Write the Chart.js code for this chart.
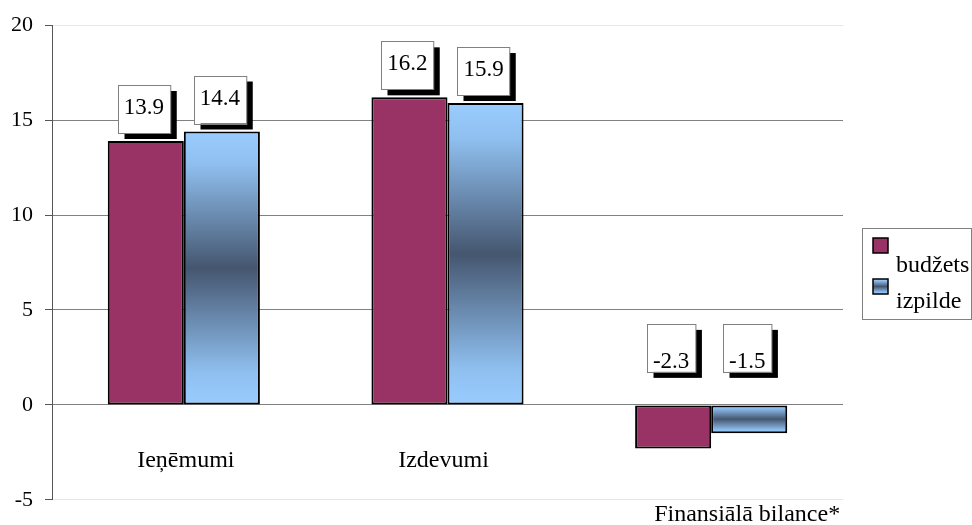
<!DOCTYPE html>
<html>
<head>
<meta charset="utf-8">
<script src="https://cdn.jsdelivr.net/npm/chart.js@4.4.1/dist/chart.umd.min.js"></script>
<style>
  html, body { margin: 0; padding: 0; background: #ffffff; }
  #wrap { width: 972px; height: 525px; position: relative; }
</style>
</head>
<body>
<div id="wrap"><canvas id="c" width="972" height="525"></canvas></div>
<script>
// ---- data ----
const categories = ["Ieņēmumi", "Izdevumi", "Finansiālā bilance*"];
const seriesNames = ["budžets", "izpilde"];
const budzets = [13.9, 16.2, -2.3];
const izpilde = [14.4, 15.9, -1.5];
const yTicks = [-5, 0, 5, 10, 15, 20];

// ---- style ----
const SERIF = "'Liberation Serif', 'Times New Roman', serif";
const budzetsColor = '#993366';
const blueLight = '#99ccff';
const blueDark = '#45566f';
// category label placement (offset px from category centre, value on y axis)
const catLabelDx = [2, -4, 36];
const catLabelY = [-2.95, -2.95, -5.8];

function blueGradient(ctx, y0, y1) {
  const g = ctx.createLinearGradient(0, Math.min(y0, y1), 0, Math.max(y0, y1));
  g.addColorStop(0, blueLight);
  g.addColorStop(0.12, '#8fbfef');
  g.addColorStop(0.5, blueDark);
  g.addColorStop(0.88, '#8fbfef');
  g.addColorStop(1, blueLight);
  return g;
}

const valueBoxes = {
  id: 'valueBoxes',
  afterDatasetsDraw(chart) {
    const ctx = chart.ctx;
    const ys = chart.scales.y;
    const zero = ys.getPixelForValue(0);
    ctx.save();
    ctx.font = '23px ' + SERIF;
    chart.data.datasets.forEach((ds, di) => {
      const meta = chart.getDatasetMeta(di);
      meta.data.forEach((el, i) => {
        const v = ds.data[i];
        const txt = v.toFixed(1);
        const w = Math.max(48, ctx.measureText(txt).width + 12);
        const h = 48;
        const cx = el.x - 2;
        const bottom = v >= 0 ? el.y - 8 : zero - 33;
        const top = bottom - h;
        const left = Math.round(cx - w / 2) + 0.5;
        ctx.fillStyle = '#000';
        ctx.fillRect(left + 6, top + 6, w, h);
        ctx.fillStyle = '#fff';
        ctx.fillRect(left, top, w, h);
        ctx.strokeStyle = '#808080';
        ctx.lineWidth = 1;
        ctx.strokeRect(left, Math.round(top) + 0.5, w, h);
        ctx.fillStyle = '#000';
        ctx.textAlign = 'center';
        ctx.textBaseline = 'middle';
        ctx.fillText(txt, cx, top + (v >= 0 ? 23 : 38));
      });
    });
    ctx.restore();
  }
};

const catLabels = {
  id: 'catLabels',
  afterDraw(chart) {
    const ctx = chart.ctx;
    const xs = chart.scales.x, ys = chart.scales.y;
    ctx.save();
    ctx.font = '24px ' + SERIF;
    ctx.fillStyle = '#000';
    ctx.textAlign = 'center';
    ctx.textBaseline = 'middle';
    categories.forEach((c, i) => {
      ctx.fillText(c, xs.getPixelForValue(i) + catLabelDx[i], ys.getPixelForValue(catLabelY[i]));
    });
    ctx.restore();
  }
};

const legendBox = {
  id: 'legendBox',
  afterDraw(chart) {
    const ctx = chart.ctx;
    ctx.save();
    ctx.strokeStyle = '#808080';
    ctx.lineWidth = 1;
    ctx.strokeRect(862.5, 228.5, 109, 91);
    const sw = [[873, 238], [873, 279]];
    sw.forEach(([x, y], i) => {
      ctx.fillStyle = i === 0 ? budzetsColor : blueGradient(ctx, y, y + 15);
      ctx.fillRect(x, y, 15, 15);
      ctx.strokeStyle = '#000';
      ctx.lineWidth = 1.5;
      ctx.strokeRect(x, y, 15, 15);
    });
    ctx.font = '24px ' + SERIF;
    ctx.fillStyle = '#000';
    ctx.textAlign = 'left';
    ctx.textBaseline = 'alphabetic';
    ctx.fillText(seriesNames[0], 896, 272);
    ctx.fillText(seriesNames[1], 896, 308);
    ctx.restore();
  }
};

new Chart(document.getElementById('c'), {
  type: 'bar',
  data: {
    labels: categories,
    datasets: [
      {
        label: seriesNames[0],
        data: budzets,
        backgroundColor: budzetsColor,
        borderColor: '#000',
        borderWidth: 2,
        borderSkipped: false
      },
      {
        label: seriesNames[1],
        data: izpilde,
        backgroundColor: (c) => {
          const chart = c.chart;
          if (!chart.chartArea || c.type !== 'data') return blueLight;
          const ys = chart.scales.y;
          return blueGradient(chart.ctx, ys.getPixelForValue(c.raw), ys.getPixelForValue(0));
        },
        borderColor: '#000',
        borderWidth: 2,
        borderSkipped: false
      }
    ]
  },
  options: {
    responsive: false,
    animation: false,
    devicePixelRatio: 1,
    layout: { padding: { left: 0, right: 129, top: 25, bottom: 22 } },
    plugins: { legend: { display: false }, tooltip: { enabled: false } },
    datasets: { bar: { categoryPercentage: 0.577, barPercentage: 1 } },
    scales: {
      x: { display: false, offset: true },
      y: {
        min: -5, max: 20,
        afterFit(axis) { axis.width = 52; },
        afterBuildTicks(axis) { axis.ticks = yTicks.map(v => ({ value: v })); },
        ticks: {
          font: { family: SERIF, size: 22 },
          color: '#000',
          padding: 12
        },
        grid: {
          color: (c) => (c.tick && (c.tick.value === 20 || c.tick.value === -5)) ? '#e6e6e6' : '#808080',
          tickColor: '#555',
          tickLength: 7,
          lineWidth: 1
        },
        border: { display: true, color: '#555', width: 1 }
      }
    }
  },
  plugins: [valueBoxes, catLabels, legendBox]
});
</script>
</body>
</html>
